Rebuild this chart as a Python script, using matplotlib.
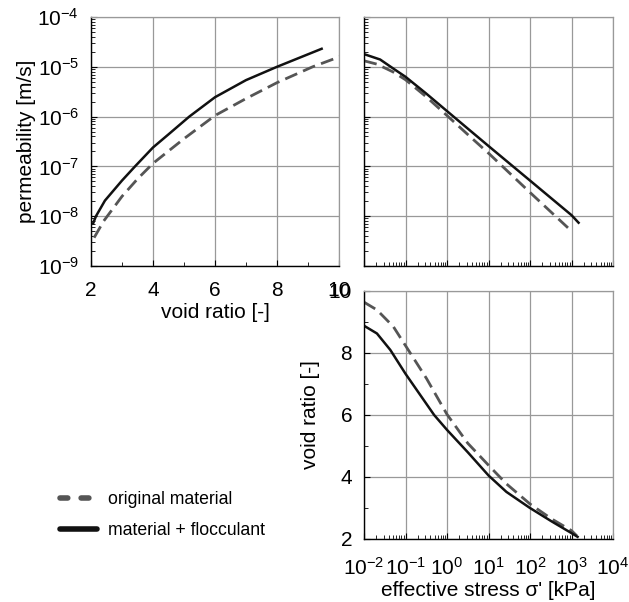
import matplotlib
matplotlib.use("Agg")
import matplotlib.pyplot as plt
import matplotlib.ticker as mticker
import numpy as np

plt.rcParams['font.family'] = ['Liberation Sans', 'DejaVu Sans']
plt.rcParams['mathtext.default'] = 'regular'
plt.rcParams['font.size'] = 15

# ---------------- data ----------------

# permeability vs void ratio
voidSolid = [2.07, 2.16, 2.45, 3.0, 3.42, 4.0, 4.5, 5.17, 6.0, 7.0, 8.0, 9.44]
kSolid = [7.2e-9, 1e-8, 2.06e-8, 5.2e-8, 1e-7, 2.4e-7, 4.4e-7, 1e-6, 2.45e-6, 5.4e-6, 1e-5, 2.3e-5]
voidDash = [2.1, 2.41, 3.0, 3.5, 4.0, 5.0, 6.0, 7.0, 8.0, 9.15, 10.03]
kDash = [3.7e-9, 8e-9, 2.5e-8, 5.6e-8, 1.15e-7, 3.6e-7, 1.05e-6, 2.3e-6, 4.8e-6, 1e-5, 1.6e-5]

# permeability vs effective stress (kPa)
stressKSolid = [1e-2, 2.45e-2, 5e-2, 1e-1, 3.16e-1, 1e0, 3.55e0, 1.07e1, 1e2, 1e3, 1.48e3]
kStressSolid = [1.8e-5, 1.4e-5, 9.3e-6, 6.3e-6, 2.9e-6, 1.29e-6, 5.3e-7, 2.45e-7, 5.2e-8, 1.05e-8, 7.4e-9]
stressKDash = [1e-2, 2.05e-2, 5e-2, 1e-1, 3.16e-1, 1e0, 3.55e0, 1.07e1, 1e2, 9.1e2]
kStressDash = [1.32e-5, 1.13e-5, 7.9e-6, 5.5e-6, 2.5e-6, 1.05e-6, 4.0e-7, 1.75e-7, 3e-8, 5.4e-9]

# void ratio vs effective stress (kPa)
stressESolid = [1e-2, 2.05e-2, 4.3e-2, 1e-1, 4.9e-1, 1e0, 3.16e0, 1e1, 2.7e1, 1e2, 3.3e2, 1e3, 1.4e3]
eSolid = [8.88, 8.63, 8.10, 7.33, 6.0, 5.52, 4.8, 4.05, 3.52, 3.0, 2.57, 2.19, 2.07]
stressEDash = [1e-2, 2.05e-2, 5.1e-2, 1.3e-1, 3.2e-1, 1e0, 3.16e0, 1e1, 2.7e1, 1e2, 3.3e2, 1e3, 1.35e3]
eDash = [9.64, 9.39, 8.85, 8.0, 7.18, 6.02, 5.09, 4.38, 3.78, 3.13, 2.65, 2.27, 2.10]

labels = ['original material', 'material + flocculant']

W, H = 629, 602
fig = plt.figure(figsize=(W / 100, H / 100), dpi=100)

def box(x0, x1, y0, y1):
    return [x0 / W, 1 - y1 / H, (x1 - x0) / W, (y1 - y0) / H]

axK = fig.add_axes(box(91, 339, 17, 266))
axKS = fig.add_axes(box(364, 613, 17, 266))
axE = fig.add_axes(box(364, 613, 291, 539))

dashStyle = dict(color='#555555', lw=2.0, dashes=(4.7, 2.3))
solidStyle = dict(color='#111111', lw=1.8)

def powFmt(v, p):
    return f'$10^{{{int(round(np.log10(v)))}}}$'

def styleAxes(ax, xpad=11):
    ax.grid(True, which='major', color='#999999', lw=0.9)
    ax.set_axisbelow(True)
    for s in ['top', 'right']:
        ax.spines[s].set_color('#999999')
        ax.spines[s].set_linewidth(0.9)
    for s in ['left', 'bottom']:
        ax.spines[s].set_color('black')
        ax.spines[s].set_linewidth(1.0)
    ax.tick_params(which='both', direction='in', top=False, right=False, colors='black', labelsize=15)
    ax.tick_params(which='major', length=4)
    ax.tick_params(which='minor', length=3)
    ax.tick_params(axis='x', which='major', pad=xpad)
    ax.tick_params(axis='y', which='major', pad=8.5)

# ---- permeability vs void ratio ----
axK.plot(voidDash, kDash, **dashStyle)
axK.plot(voidSolid, kSolid, **solidStyle)
axK.set_yscale('log')
axK.set_xlim(2, 10)
axK.set_ylim(1e-9, 1e-4)
axK.xaxis.set_major_locator(mticker.MultipleLocator(2))
axK.xaxis.set_minor_locator(mticker.MultipleLocator(1))
axK.yaxis.set_major_locator(mticker.LogLocator(10, numticks=10))
axK.yaxis.set_minor_locator(mticker.LogLocator(10, subs=np.arange(2, 10), numticks=10))
axK.yaxis.set_major_formatter(mticker.FuncFormatter(powFmt))
axK.yaxis.set_minor_formatter(mticker.NullFormatter())
axK.set_xlabel('void ratio [-]', fontsize=15, labelpad=2)
axK.set_ylabel('permeability [m/s]', fontsize=15, labelpad=1)
styleAxes(axK, xpad=11)

# ---- permeability vs stress ----
axKS.plot(stressKDash, kStressDash, **dashStyle)
axKS.plot(stressKSolid, kStressSolid, **solidStyle)
axKS.set_xscale('log')
axKS.set_yscale('log')
axKS.set_xlim(1e-2, 1e4)
axKS.set_ylim(1e-9, 1e-4)
for a in [axKS.xaxis, axKS.yaxis]:
    a.set_major_locator(mticker.LogLocator(10, numticks=10))
    a.set_minor_locator(mticker.LogLocator(10, subs=np.arange(2, 10), numticks=10))
    a.set_major_formatter(mticker.NullFormatter())
    a.set_minor_formatter(mticker.NullFormatter())
styleAxes(axKS)

# ---- void ratio vs stress ----
axE.plot(stressEDash, eDash, **dashStyle)
axE.plot(stressESolid, eSolid, **solidStyle)
axE.set_xscale('log')
axE.set_xlim(1e-2, 1e4)
axE.set_ylim(2, 10)
axE.xaxis.set_major_locator(mticker.LogLocator(10, numticks=10))
axE.xaxis.set_minor_locator(mticker.LogLocator(10, subs=np.arange(2, 10), numticks=10))
axE.xaxis.set_major_formatter(mticker.FuncFormatter(powFmt))
axE.xaxis.set_minor_formatter(mticker.NullFormatter())
axE.yaxis.set_major_locator(mticker.MultipleLocator(2))
axE.yaxis.set_minor_locator(mticker.MultipleLocator(1))
axE.set_xlabel("effective stress σ' [kPa]", fontsize=15, labelpad=1.5)
axE.set_ylabel('void ratio [-]', fontsize=15, labelpad=6)
styleAxes(axE, xpad=13)

# ---- legend ----
hDash = plt.Line2D([], [], color='#555555', lw=4, dashes=(1.4, 2.4), dash_capstyle='round')
hSolid = plt.Line2D([], [], color='#111111', lw=4, solid_capstyle='round')
fig.legend([hDash, hSolid], labels, loc='upper left', bbox_to_anchor=(60 / W, 1 - 491 / H),
           frameon=False, fontsize=12.7, handlelength=2.1, handletextpad=0.6,
           labelspacing=0.78, borderpad=0, borderaxespad=0)

fig.savefig('out.png', dpi=100)
